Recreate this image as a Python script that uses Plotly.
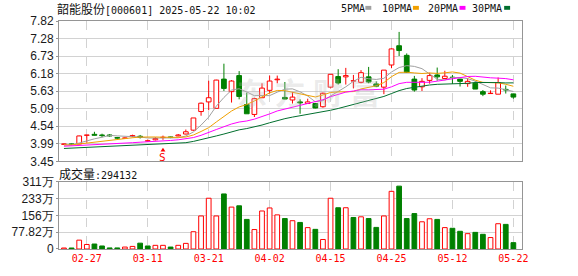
import numpy as np
import plotly.graph_objects as go

# ---------------- data ----------------
dates = ["02-24", "02-25", "02-26", "02-27", "02-28", "03-03", "03-04", "03-05", "03-06", "03-07",
         "03-10", "03-11", "03-12", "03-13", "03-14", "03-17", "03-18", "03-19", "03-20", "03-21",
         "03-24", "03-25", "03-26", "03-27", "03-28", "03-31", "04-01", "04-02", "04-03", "04-07",
         "04-08", "04-09", "04-10", "04-11", "04-14", "04-15", "04-16", "04-17", "04-18", "04-21",
         "04-22", "04-23", "04-24", "04-25", "04-28", "04-29", "04-30", "05-06", "05-07", "05-08",
         "05-09", "05-12", "05-13", "05-14", "05-15", "05-16", "05-19", "05-20", "05-21", "05-22"]

opens = [3.98, 3.99, 3.99, 4.26, 4.29, 4.27, 4.27, 4.19, 4.17, 4.23,
         4.23, 4.08, 4.12, 4.19, 4.21, 4.24, 4.30, 4.42, 5.00, 5.30,
         5.10, 6.01, 5.62, 6.12, 5.22, 4.91, 5.43, 5.66, 5.99, 5.44,
         5.36, 5.30, 5.25, 5.25, 5.15, 5.76, 6.09, 6.08, 5.95, 5.91,
         6.08, 5.86, 5.76, 6.45, 7.05, 6.75, 6.01, 5.77, 5.97, 6.14,
         6.03, 6.07, 6.01, 5.87, 5.88, 5.62, 5.56, 5.54, 5.69, 5.55]
highs = [4.00, 4.00, 4.25, 4.27, 4.37, 4.31, 4.30, 4.21, 4.19, 4.28,
         4.27, 4.13, 4.20, 4.25, 4.22, 4.30, 4.44, 4.80, 5.28, 5.96,
         5.99, 6.49, 5.98, 6.26, 5.59, 5.43, 5.88, 6.12, 6.12, 5.92,
         5.61, 5.38, 5.40, 5.26, 5.59, 6.16, 6.32, 6.36, 6.14, 6.29,
         6.39, 5.94, 6.29, 6.97, 7.48, 6.81, 6.11, 6.04, 6.21, 6.37,
         6.27, 6.14, 6.02, 6.04, 5.94, 5.67, 5.66, 6.06, 5.81, 5.55]
lows = [3.97, 3.97, 3.98, 4.03, 4.25, 4.20, 4.22, 4.15, 4.15, 4.20,
        4.16, 4.06, 4.10, 4.12, 4.17, 4.23, 4.29, 4.40, 4.87, 5.04,
        5.10, 5.64, 5.28, 5.38, 4.93, 4.83, 5.43, 5.56, 5.88, 5.38,
        5.25, 4.93, 5.25, 5.10, 5.12, 5.72, 5.84, 5.84, 5.72, 5.88,
        5.88, 5.76, 5.54, 6.35, 6.73, 6.22, 5.62, 5.64, 5.87, 5.96,
        6.03, 5.86, 5.78, 5.77, 5.70, 5.48, 5.56, 5.54, 5.56, 5.40]
closes = [3.99, 3.98, 4.24, 4.27, 4.26, 4.25, 4.24, 4.17, 4.17, 4.25,
          4.20, 4.09, 4.16, 4.20, 4.19, 4.27, 4.37, 4.80, 5.26, 5.43,
          5.98, 5.72, 5.95, 5.47, 4.93, 5.40, 5.73, 5.95, 6.01, 5.39,
          5.45, 5.27, 5.30, 5.11, 5.57, 6.16, 5.89, 6.12, 5.96, 6.21,
          5.92, 5.79, 6.29, 6.95, 6.90, 6.22, 5.67, 5.94, 6.12, 6.08,
          6.10, 6.06, 5.94, 5.94, 5.70, 5.54, 5.57, 5.90, 5.67, 5.45]

# volume in 万 (10k shares)
volumes = [4.6, 4.6, 41, 21, 23, 14, 5, 5, 9, 12,
           27, 14, 17, 17, 9, 17, 26, 80, 153, 235,
           153, 255, 194, 200, 137, 90, 176, 190, 158, 141,
           131, 123, 99, 91, 44, 235, 191, 191, 146, 149,
           141, 100, 153, 267, 291, 141, 164, 126, 140, 137,
           99, 96, 82, 71, 77, 68, 53, 117, 114, 29.4]

ma5 = [3.96, 3.96, 4.02, 4.09, 4.15, 4.20, 4.256, 4.242, 4.222, 4.218,
       4.208, 4.176, 4.174, 4.18, 4.168, 4.182, 4.238, 4.366, 4.578, 4.826,
       5.168, 5.438, 5.668, 5.71, 5.61, 5.494, 5.496, 5.496, 5.604, 5.696,
       5.706, 5.614, 5.484, 5.304, 5.34, 5.482, 5.606, 5.77, 5.94, 6.068,
       6.02, 6.00, 6.034, 6.232, 6.37, 6.43, 6.406, 6.336, 6.17, 6.006,
       5.982, 6.06, 6.06, 6.024, 5.948, 5.836, 5.738, 5.73, 5.676, 5.626]
ma10 = [3.96, 3.96, 3.99, 4.02, 4.05, 4.08, 4.11, 4.13, 4.15, 4.184,
        4.205, 4.216, 4.208, 4.201, 4.193, 4.195, 4.207, 4.27, 4.379, 4.497,
        4.675, 4.838, 5.017, 5.144, 5.218, 5.331, 5.467, 5.582, 5.657, 5.653,
        5.60, 5.555, 5.49, 5.454, 5.518, 5.594, 5.61, 5.627, 5.622, 5.704,
        5.751, 5.803, 5.902, 6.086, 6.219, 6.225, 6.203, 6.185, 6.201, 6.188,
        6.206, 6.233, 6.198, 6.097, 5.977, 5.909, 5.899, 5.895, 5.85, 5.787]
ma20 = [3.92, 3.93, 3.945, 3.96, 3.975, 3.99, 4.00, 4.01, 4.02, 4.03,
        4.045, 4.055, 4.07, 4.085, 4.10, 4.12, 4.145, 4.19, 4.26, 4.34,
        4.44, 4.527, 4.613, 4.673, 4.706, 4.763, 4.837, 4.926, 5.018, 5.075,
        5.138, 5.197, 5.254, 5.299, 5.368, 5.463, 5.539, 5.605, 5.640, 5.679,
        5.676, 5.679, 5.696, 5.77, 5.869, 5.910, 5.907, 5.906, 5.912, 5.946,
        5.979, 6.018, 6.05, 6.092, 6.098, 6.067, 6.051, 6.04, 6.026, 5.988]
ma30 = [3.85, 3.86, 3.87, 3.88, 3.89, 3.90, 3.91, 3.92, 3.93, 3.94,
        3.95, 3.96, 3.97, 3.98, 3.99, 4.01, 4.03, 4.07, 4.12, 4.17,
        4.24, 4.30, 4.37, 4.43, 4.47, 4.52, 4.58, 4.65, 4.72, 4.778,
        4.827, 4.870, 4.905, 4.933, 4.976, 5.04, 5.095, 5.16, 5.219, 5.285,
        5.342, 5.399, 5.47, 5.561, 5.652, 5.717, 5.76, 5.798, 5.827, 5.848,
        5.852, 5.864, 5.863, 5.879, 5.905, 5.909, 5.904, 5.902, 5.891, 5.893]

price_tick_text = ["3.45", "3.99", "4.54", "5.09", "5.63", "6.18", "6.73", "7.28", "7.82"]
vol_tick_vals = [0, 77.82, 155.64, 233.46, 311.28]
vol_tick_text = ["0", "77.82万", "156万", "233万", "311万"]
date_ticks = ["02-27", "03-11", "03-21", "04-02", "04-15", "04-25", "05-12", "05-22"]
ma_names = ["5PMA", "10PMA", "20PMA", "30PMA"]
title_name = "韶能股份"
title_code = "[000601] 2025-05-22 10:02"
last_volume = "294132"
signal_date = "03-13"
watermark_chars = ["东", "方", "财", "富"]

# ---------------- styling ----------------
W, H = 578, 276
ML, MR, MT, MB = 55, 56, 21, 21
PW, PH = W - ML - MR, H - MT - MB
RED, GREEN = "#ff0000", "#008000"
MA_COLORS = ["#a0a0a0", "#f0a000", "#ff00ff", "#006f2e"]
GRID = "#d2d2d2"
AXIS = "#959595"
MONO = "DejaVu Sans Mono"
CJK = "Noto Sans CJK SC"


def px_x(px):
    return (px - ML) / PW


def px_y(py):
    return (H - MB - py) / PH


n = len(dates)
xs = list(range(n))
tick_idx = [dates.index(d) for d in date_ticks]
step = 7.683  # px per trading day
x0 = -5 / step
x1 = x0 + PW / step

up = [c >= o for o, c in zip(opens, closes)]
vol_up = [True] + [closes[i] >= closes[i - 1] for i in range(1, n)]

fig = go.Figure()

# watermark (very light)
for k, ch in enumerate(watermark_chars):
    fig.add_annotation(x=px_x(250 + k * 38), y=px_y(93), xref="paper", yref="paper",
                       xanchor="center", yanchor="middle", text="<b>" + ch + "</b>",
                       showarrow=False,
                       font=dict(family=CJK, size=30, color="rgba(185,185,185,0.30)"))

# wicks
for flag, col in [(True, RED), (False, GREEN)]:
    wx, wy = [], []
    for i in xs:
        if up[i] != flag:
            continue
        top, bot = max(opens[i], closes[i]), min(opens[i], closes[i])
        wx += [i, i, None, i, i, None]
        wy += [top, highs[i], None, lows[i], bot, None]
    fig.add_trace(go.Scatter(x=wx, y=wy, mode="lines", line=dict(color=col, width=1),
                             hoverinfo="skip", xaxis="x", yaxis="y"))

# bodies
for flag, fill, col in [(True, "white", RED), (False, GREEN, GREEN)]:
    idx = [i for i in xs if up[i] == flag]
    fig.add_trace(go.Bar(
        x=idx,
        y=[max(abs(closes[i] - opens[i]), 0.006) for i in idx],
        base=[min(opens[i], closes[i]) for i in idx],
        width=0.62, marker=dict(color=fill, line=dict(color=col, width=1)),
        xaxis="x", yaxis="y"))

# moving averages
for ma, col in zip([ma5, ma10, ma20, ma30], MA_COLORS):
    fig.add_trace(go.Scatter(x=xs, y=ma, mode="lines", line=dict(color=col, width=1),
                             xaxis="x", yaxis="y"))

# volume
for flag, fill, col in [(True, "white", RED), (False, GREEN, GREEN)]:
    idx = [i for i in xs if vol_up[i] == flag]
    fig.add_trace(go.Bar(x=idx, y=[volumes[i] for i in idx], width=0.62,
                         marker=dict(color=fill, line=dict(color=col, width=1)),
                         xaxis="x2", yaxis="y2"))

axis_common = dict(showline=True, mirror=True, linecolor=AXIS, linewidth=1, zeroline=False)

fig.update_layout(
    width=W, height=H, margin=dict(l=ML, r=MR, t=MT, b=MB),
    paper_bgcolor="white", plot_bgcolor="white", showlegend=False, barmode="overlay",
    xaxis=dict(domain=[0, 1], range=[x0, x1], anchor="y", tickmode="array", tickvals=tick_idx,
               showticklabels=False, ticks="", showgrid=True, gridcolor=GRID, griddash="dash",
               **axis_common),
    yaxis=dict(domain=[px_y(165), 1], range=[3.45, 7.82], tickmode="array",
               tickvals=list(np.linspace(3.45, 7.82, 9)), ticktext=price_tick_text,
               ticks="outside", ticklen=2, tickcolor=AXIS, showgrid=True, gridcolor=GRID,
               tickfont=dict(family="Liberation Sans", size=12, color="#1a1a1a"), **axis_common),
    xaxis2=dict(domain=[0, 1], range=[x0, x1], anchor="y2", tickmode="array", tickvals=tick_idx,
                ticktext=date_ticks, ticks="", showgrid=True, gridcolor=GRID, griddash="dash",
                tickfont=dict(family=MONO, size=10, color=RED), **axis_common),
    yaxis2=dict(domain=[0, px_y(186)], range=[0, 311.28], tickmode="array",
                tickvals=vol_tick_vals, ticktext=vol_tick_text, ticks="outside", ticklen=2,
                tickcolor=AXIS, showgrid=True, gridcolor=GRID,
                tickfont=dict(family="Liberation Sans", size=12, color="#1a1a1a"), **axis_common),
)

# title
fig.add_annotation(x=px_x(51), y=px_y(8), xref="paper", yref="paper", xanchor="left",
                   yanchor="middle", showarrow=False,
                   text=title_name + '<span style="font-family:DejaVu Sans Mono;font-size:10px">'
                   + title_code + "</span>",
                   font=dict(family=CJK, size=12, color="#111"))
# volume label
fig.add_annotation(x=px_x(53), y=px_y(177.5), xref="paper", yref="paper", xanchor="left",
                   yanchor="middle", showarrow=False,
                   text='成交量<span style="font-family:DejaVu Sans Mono;font-size:10px">:'
                   + last_volume + "</span>",
                   font=dict(family=CJK, size=12, color="#111"))

# MA legend
legend_x = [337, 379, 425, 470]
square_x = [364, 412, 459, 504]
for name, lx, sx, col in zip(ma_names, legend_x, square_x, MA_COLORS):
    fig.add_annotation(x=px_x(lx), y=px_y(8), xref="paper", yref="paper", xanchor="left",
                       yanchor="middle", showarrow=False, text=name,
                       font=dict(family=MONO, size=10, color="#111"))
    fig.add_shape(type="rect", xref="paper", yref="paper", x0=px_x(sx), x1=px_x(sx + 6),
                  y0=px_y(9.5), y1=px_y(5.5), fillcolor=col, line=dict(width=0))

# buy-signal marker: small up arrow + "S"
si = dates.index(signal_date)
hw = 2.5 / step
fig.add_shape(type="path", xref="x", yref="paper",
              path=f"M {si - hw},{px_y(155)} L {si + hw},{px_y(155)} L {si},{px_y(151)} Z",
              fillcolor=RED, line=dict(width=0))
fig.add_annotation(x=si, y=px_y(161), xref="x", yref="paper", yanchor="middle",
                   showarrow=False, text="S",
                   font=dict(family=MONO, size=11, color=RED))

fig.write_html("out.html", config={"displayModeBar": False})
